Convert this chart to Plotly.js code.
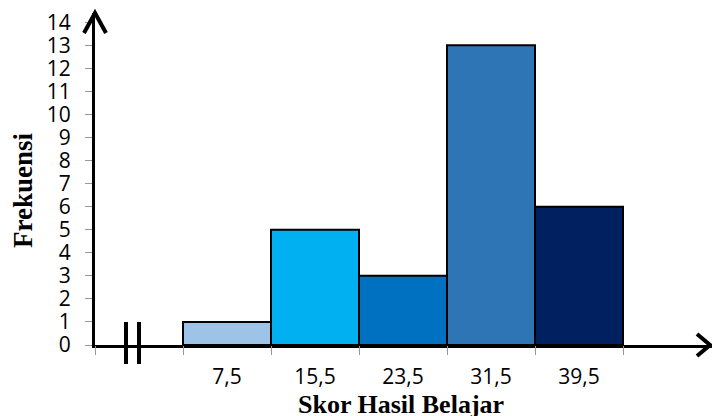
<!DOCTYPE html>
<html>
<head>
<meta charset="utf-8">
<script src="https://cdn.plot.ly/plotly-3.0.1.min.js"></script>
<style>html,body{margin:0;padding:0;background:#fff;}#chart{width:712px;height:416px;}</style>
</head>
<body>
<div id="chart"></div>
<script>
// ---- data ----
const categories = ["7,5", "15,5", "23,5", "31,5", "39,5"];
const frequencies = [1, 5, 3, 13, 6];
const barColors = ["#9DC3E6", "#00B0F0", "#0070C0", "#2E75B6", "#002060"];
const yTickValues = [0,1,2,3,4,5,6,7,8,9,10,11,12,13,14];
const xTitle = "Skor Hasil Belajar";
const yTitle = "Frekuensi";

// slot positions: slot 0 is the empty (broken) slot, bars follow
const positions = categories.map((c, i) => i + 1);
const boundaries = [-0.5].concat(positions.map(p => p - 0.5), [positions[positions.length - 1] + 0.5]);

// ---- layout geometry ----
const W = 712, H = 416;
const M = {l: 95, r: 0, t: 13, b: 71};
const PW = W - M.l - M.r, PH = H - M.t - M.b;
const px = x => (x - M.l) / PW;        // pixel -> paper x
const py = y => (H - M.b - y) / PH;    // pixel -> paper y

const bar = {
  type: 'bar',
  x: positions,
  y: frequencies,
  width: 1,
  marker: {color: barColors, line: {color: '#000', width: 2}},
  hoverinfo: 'skip',
  showlegend: false
};
const tickHolder = {
  type: 'scatter', mode: 'markers', x: [boundaries[0]], y: [0], xaxis: 'x2',
  marker: {opacity: 0}, hoverinfo: 'skip', showlegend: false
};

const arrowLine = {color: '#000', width: 4};
const shapes = [
  // y arrow head
  {type: 'path', xref: 'paper', yref: 'paper', layer: 'above',
   path: `M ${px(84)} ${py(33)} L ${px(95)} ${py(13)} L ${px(106)} ${py(33)}`, line: arrowLine},
  // x arrow head
  {type: 'path', xref: 'paper', yref: 'paper', layer: 'above',
   path: `M ${px(697)} ${py(334)} L ${px(710)} ${py(345)} L ${px(697)} ${py(356)}`, line: arrowLine},
  // axis break marks
  {type: 'line', xref: 'paper', yref: 'paper', x0: px(126), x1: px(126), y0: py(322), y1: py(364), line: {color: '#000', width: 4}},
  {type: 'line', xref: 'paper', yref: 'paper', x0: px(139), x1: px(139), y0: py(322), y1: py(364), line: {color: '#000', width: 4}}
];

const annotations = [
  {text: xTitle, xref: 'paper', yref: 'paper', x: px(401), y: py(404), xanchor: 'center', yanchor: 'middle',
   showarrow: false, font: {family: 'Liberation Serif, Times New Roman, serif', size: 26, color: '#000', weight: 'bold'}},
  {text: yTitle, xref: 'paper', yref: 'paper', x: px(23), y: py(190), xanchor: 'center', yanchor: 'middle', textangle: -90,
   showarrow: false, font: {family: 'Liberation Serif, Times New Roman, serif', size: 27, color: '#000', weight: 'bold'}}
];

const tickFont = {family: 'Open Sans, sans-serif', size: 21, color: '#000'};
const xRange = [-0.5, -0.5 + PW / 88];

const layout = {
  width: W, height: H,
  margin: M,
  paper_bgcolor: '#fff', plot_bgcolor: '#fff',
  showlegend: false,
  bargap: 0,
  xaxis: {
    range: xRange, tickmode: 'array', tickvals: positions, ticktext: categories,
    ticks: '', showgrid: false, zeroline: false,
    showline: true, linecolor: '#000', linewidth: 3,
    tickfont: tickFont, ticklabelstandoff: 11, fixedrange: true
  },
  xaxis2: {
    overlaying: 'x', anchor: 'y', side: 'bottom', range: xRange,
    tickmode: 'array', tickvals: boundaries, showticklabels: false,
    ticks: 'outside', ticklen: 9, tickwidth: 1, tickcolor: '#999',
    showgrid: false, zeroline: false, showline: false, fixedrange: true
  },
  yaxis: {
    range: [0, 14.4], tickmode: 'array', tickvals: yTickValues,
    ticks: 'outside', ticklen: 7, tickwidth: 1, tickcolor: '#999',
    showgrid: false, zeroline: false,
    showline: true, linecolor: '#000', linewidth: 3,
    tickfont: tickFont, ticklabelstandoff: 10, fixedrange: true
  },
  shapes: shapes,
  annotations: annotations
};

Plotly.newPlot('chart', [bar, tickHolder], layout, {staticPlot: true, displayModeBar: false});
</script>
</body>
</html>
